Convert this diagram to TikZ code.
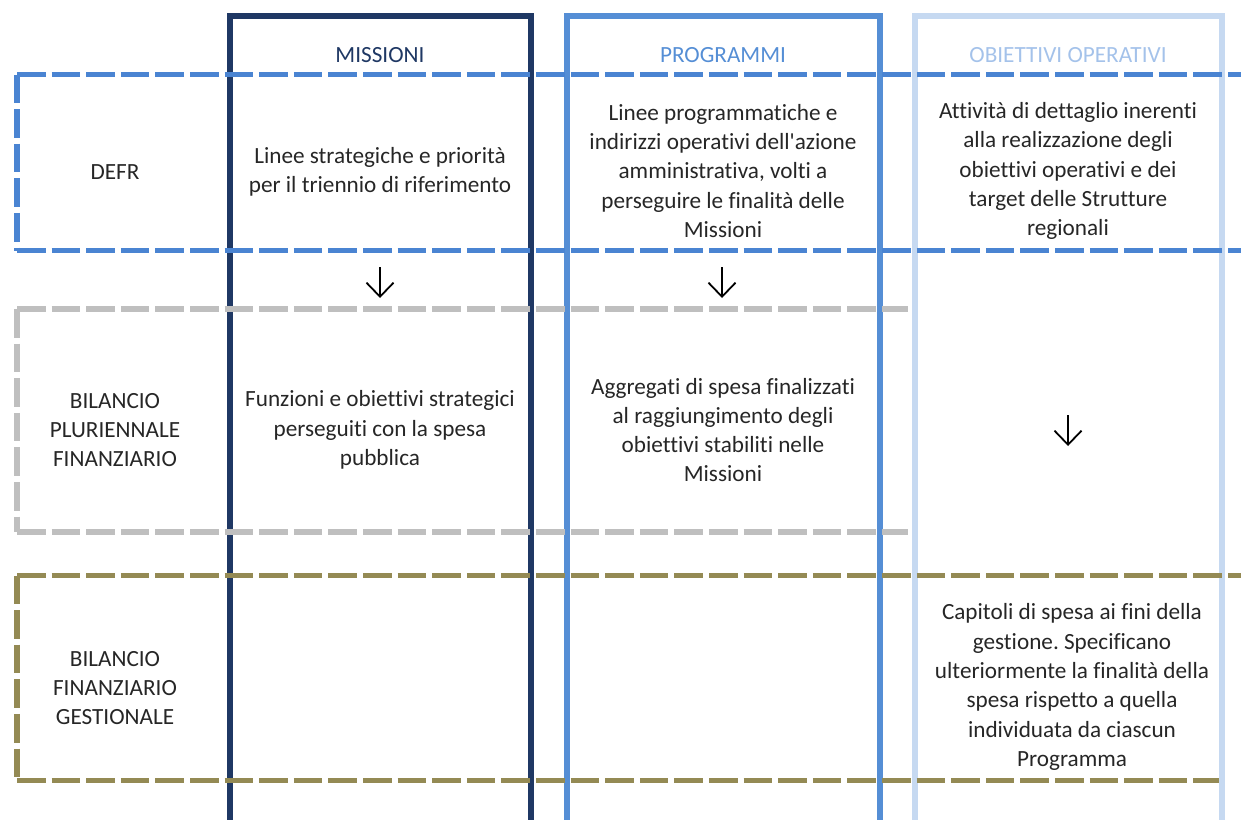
\documentclass[tikz,border=0pt]{standalone}
\usepackage{fontspec}
\setmainfont{Carlito}[Ligatures={NoCommon,TeXOff}]
\usepackage{xcolor}
\usetikzlibrary{arrows.meta,positioning}
\definecolor{navy}{HTML}{1F3864}
\definecolor{progblue}{HTML}{558ED5}
\definecolor{obblue}{HTML}{C6D9F1}
\definecolor{obtext}{HTML}{A4C2EA}
\definecolor{defrblue}{HTML}{4A84D2}
\definecolor{bilgray}{HTML}{BFBFBF}
\definecolor{olivegold}{HTML}{948A54}
\definecolor{txt}{HTML}{262626}
\frenchspacing

\begin{document}
\begin{tikzpicture}[x=0.5pt, y=-0.5pt,
  every node/.style={font=\fontsize{11.6}{14.65}\selectfont, text=txt, align=center, inner sep=0pt},
  column/.style={line width=2.75pt},
  rowline/.style={line width=2.7pt, dash pattern=on 14.3pt off 3pt},
  down/.style={-{Straight Barb[length=7pt,width=13.5pt]}, line width=0.9pt, black}]
  \useasboundingbox (0,0) rectangle (1241,819);
  \clip (0,0) rectangle (1241,819);

  % Columns (open at the bottom)
  \draw[column, navy] (230,840) -- (230,16) -- (531,16) -- (531,840);
  \draw[column, progblue] (567,840) -- (567,16) -- (880,16) -- (880,840);
  \draw[column, obblue] (915,840) -- (915,16) -- (1222,16) -- (1222,840);

  % Rows (dashed, open at the right)
  \draw[rowline, defrblue] (17,74.5) -- (1250,74.5);
  \draw[rowline, defrblue] (17,74.5) -- (17,250.5);
  \draw[rowline, defrblue] (17,250.5) -- (1250,250.5);
  \draw[rowline, bilgray] (17,309) -- (908,309);
  \draw[rowline, bilgray] (17,309) -- (17,532);
  \draw[rowline, bilgray] (17,532) -- (908,532);
  \draw[rowline, olivegold] (17,575.5) -- (1250,575.5);
  \draw[rowline, olivegold] (17,575.5) -- (17,780.5);
  \draw[rowline, olivegold] (17,780.5) -- (1219,780.5);

  % Column headers
  \node (hmis) [text=navy] at (380,55) {MISSIONI};
  \node (hprog) [text=progblue] at (723,55) {PROGRAMMI};
  \node (hobj) [text=obtext] at (1068,55) {OBIETTIVI OPERATIVI};

  % Row labels
  \node (defr) at (115,172) {DEFR};
  \node (bpf) at (115,430) {BILANCIO\\PLURIENNALE\\FINANZIARIO};
  \node (bfg) at (115,688) {BILANCIO\\FINANZIARIO\\GESTIONALE};

  % Cells
  \node (mis1) at (380,172) {Linee strategiche e priorità\\per il triennio di riferimento};
  \node (prog1) at (723,171) {Linee programmatiche e\\indirizzi operativi dell'azione\\amministrativa, volti a\\perseguire le finalità delle\\Missioni};
  \node (obj1) at (1068,171) {Attività di dettaglio inerenti\\alla realizzazione degli\\obiettivi operativi e dei\\target delle Strutture\\regionali};
  \node (mis2) at (380,430) {Funzioni e obiettivi strategici\\perseguiti con la spesa\\pubblica};
  \node (prog2) at (723,430) {Aggregati di spesa finalizzati\\al raggiungimento degli\\obiettivi stabiliti nelle\\Missioni};
  \node (obj3) at (1072,687) {Capitoli di spesa ai fini della\\gestione. Specificano\\ulteriormente la finalità della\\spesa rispetto a quella\\individuata da ciascun\\Programma};

  % Arrows
  \coordinate (a1s) at (380,267); \coordinate (a1e) at (380,298);
  \coordinate (a2s) at (722,267); \coordinate (a2e) at (722,298);
  \coordinate (a3s) at (1068,415); \coordinate (a3e) at (1068,446);
  \draw[down] (a1s) -- (a1e);
  \draw[down] (a2s) -- (a2e);
  \draw[down] (a3s) -- (a3e);
\end{tikzpicture}
\end{document}
